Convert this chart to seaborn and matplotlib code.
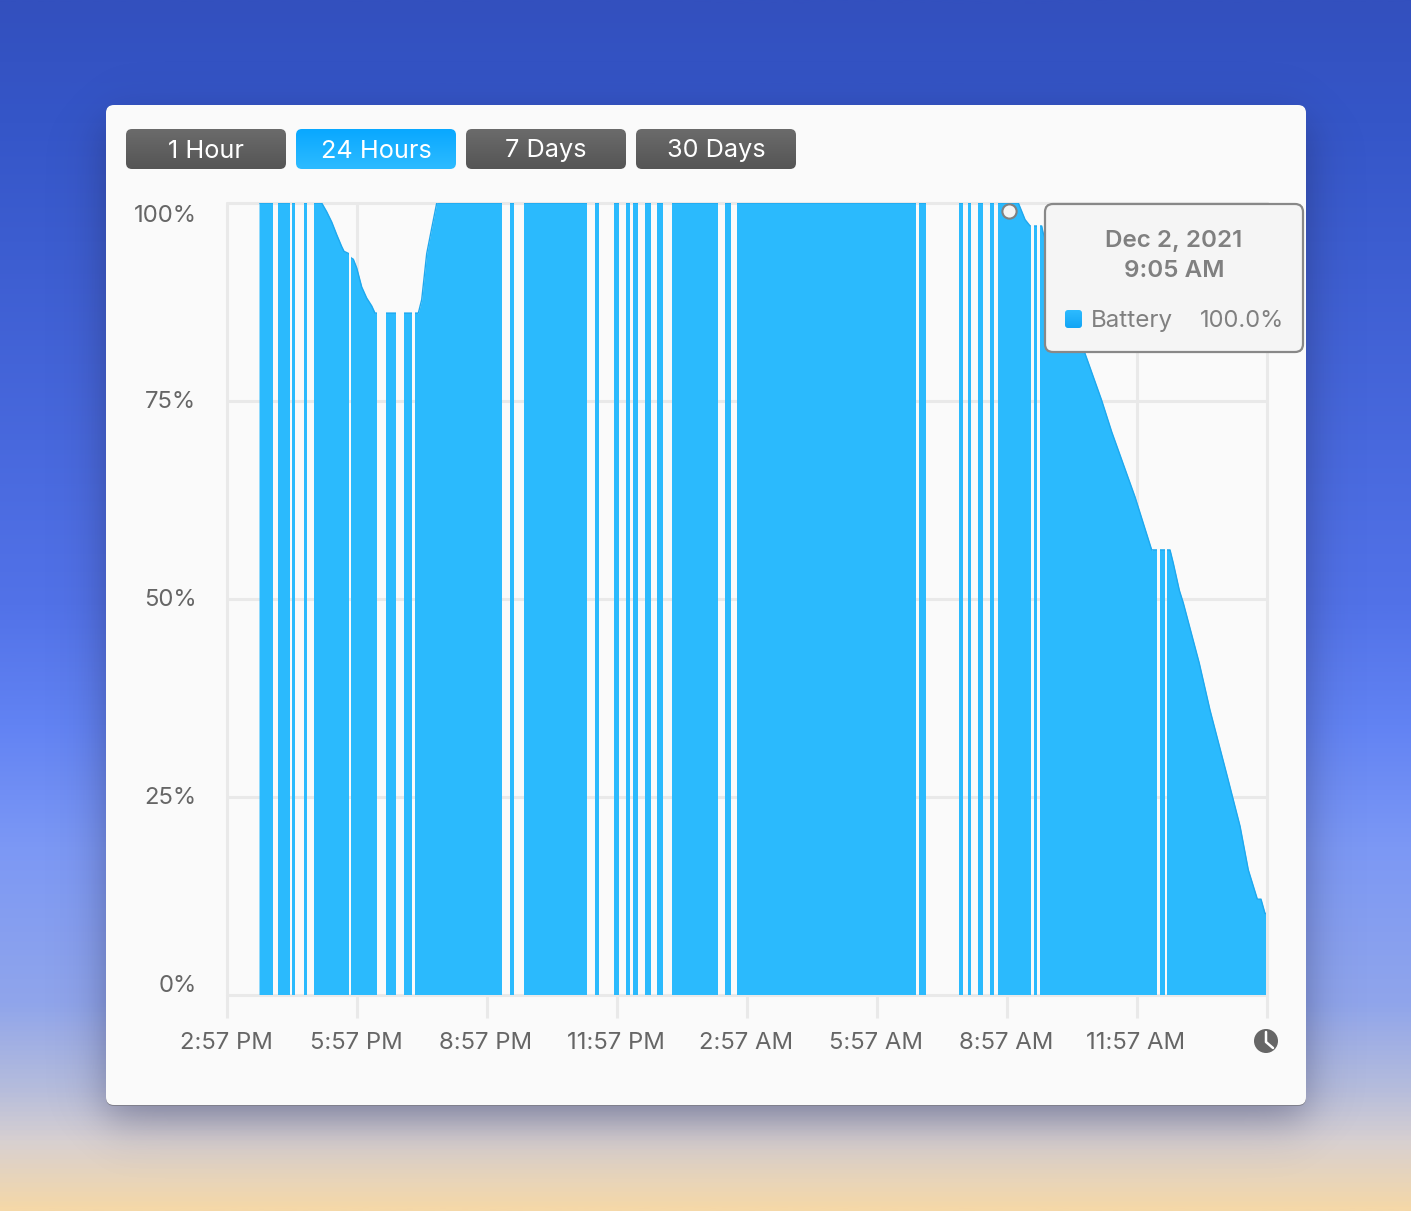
import numpy as np
import pandas as pd
import matplotlib
matplotlib.use('Agg')
import matplotlib.pyplot as plt
import seaborn as sns
from matplotlib.colors import LinearSegmentedColormap
from matplotlib.patches import FancyBboxPatch, Circle
from matplotlib.path import Path
from matplotlib.transforms import ScaledTranslation

# minutes after 2:57 PM
curve_minutes = [44.3, 131.1, 138, 145, 151.9, 158.8, 162, 168.9, 171.3, 174.9, 179.6, 186.5, 193.4,
                 200.4, 204.9, 264.9, 269.6, 276.5, 283.4, 290.4, 1095.7, 1105, 1112, 1128, 1129.8,
                 1188, 1211, 1225, 1257.2, 1280.3, 1305.7, 1310.3, 1318.6, 1324.1, 1346.2, 1361,
                 1385, 1402.7, 1414.1, 1426.6, 1431.7, 1437.2, 1438.6]
curve_battery = [100, 100, 98.9, 97.6, 96, 94.5, 93.9, 93.6, 93.1, 92.9, 91.8, 89.4, 88,
                 87, 86.1, 86.1, 87.8, 93.6, 96.8, 100, 100, 97.9, 97.1, 97.1, 96.3,
                 81, 75.1, 71.1, 62.9, 56.2, 56.2, 54.5, 51.1, 49.5, 41.9, 36,
                 27.6, 21.3, 15.8, 12.1, 12.1, 10.3, 10.3]

# stretches of time on battery, the white gaps are what is left over
on_start = [44.3, 70.6, 90, 106.2, 120.9, 171.3, 219.7, 245.5, 259.9, 391.8, 411.2, 509.5, 535.8,
            552.9, 562.6, 579.2, 595.8, 615.7, 689.5, 706.6, 958.2, 1013.9, 1026, 1040.3, 1056.5,
            1067.1, 1117.4, 1126.1, 1291.2, 1301.5]
on_end = [63.3, 87.2, 94.6, 111.2, 168.9, 207.3, 233.6, 255.7, 380.4, 397.4, 498, 514.7, 543.2,
          558, 569.5, 586.7, 603.7, 680.3, 697.4, 953.6, 967.8, 1018.7, 1030.6, 1047.2, 1061.6,
          1112.8, 1121.5, 1287.3, 1298.8, 1438.6]

x_ticks = [0, 180, 360, 540, 720, 900, 1080, 1260, 1440]
x_labels = ['2:57 PM', '5:57 PM', '8:57 PM', '11:57 PM', '2:57 AM', '5:57 AM', '8:57 AM', '11:57 AM', '']
y_ticks = [0, 25, 50, 75, 100]
y_labels = ['0%', '25%', '50%', '75%', '100%']
buttons = ['1 Hour', '24 Hours', '7 Days', '30 Days']
hover_minute = 1083
hover_battery = 99

W, H = 1411, 1211
BLUE = '#2BBAFD'
GRID = '#E9E9E9'

sns.set_theme(style='white')
plt.rcParams['font.family'] = ['Inter', 'DejaVu Sans']

fig = plt.figure(figsize=(W / 100, H / 100), dpi=100)


def pixel_axes(z):
    a = fig.add_axes([0, 0, 1, 1], zorder=z)
    a.set_xlim(0, W)
    a.set_ylim(H, 0)
    a.axis('off')
    return a


def gradient_box(a, x0, y0, x1, y1, top, bottom, rad):
    box = FancyBboxPatch((x0 + rad, y0 + rad), x1 - x0 - 2 * rad, y1 - y0 - 2 * rad,
                         boxstyle=f'round,pad={rad},rounding_size={rad}', fc='none', ec='none')
    a.add_patch(box)
    cmap = LinearSegmentedColormap.from_list('g', [top, bottom])
    im = a.imshow(np.linspace(0, 1, 64)[:, None], extent=(x0, x1, y1, y0), aspect='auto', cmap=cmap, zorder=2)
    im.set_clip_path(box)
    a.set_xlim(0, W)
    a.set_ylim(H, 0)


# desktop background and window
back = pixel_axes(0)
wall = LinearSegmentedColormap.from_list('wall', [
    (0, '#3350BE'), (0.1, '#3556C8'), (0.5, '#5272E8'), (0.6, '#6283F3'), (0.7, '#7C98F5'),
    (0.83, '#90A5EB'), (0.9, '#B5BCDC'), (0.945, '#D8D0D0'), (1, '#F5D8A8')])
back.imshow(np.linspace(0, 1, 512)[:, None], extent=(0, W, H, 0), aspect='auto', cmap=wall, zorder=0)

# soft window shadow, a blurred rectangle moved down a little
xx, yy = np.meshgrid(np.arange(W) + 0.5, np.arange(H) + 0.5)
blur = 13
fade_x = 1 / (1 + np.exp((106 - xx) / blur)) - 1 / (1 + np.exp((1306 - xx) / blur))
fade_y = 1 / (1 + np.exp((122 - yy) / blur)) - 1 / (1 + np.exp((1118 - yy) / blur))
shadow = np.zeros((H, W, 4))
shadow[..., :3] = (0.12, 0.12, 0.25)
shadow[..., 3] = 0.42 * fade_x * fade_y
back.imshow(shadow, extent=(0, W, H, 0), aspect='auto', zorder=1)
back.set_xlim(0, W)
back.set_ylim(H, 0)

back.add_patch(FancyBboxPatch((114, 114), 1184, 984, boxstyle='round,pad=8,rounding_size=8',
                              fc='#80808C', ec='none', zorder=1.4))
back.add_patch(FancyBboxPatch((114, 113), 1184, 984, boxstyle='round,pad=8,rounding_size=8',
                              fc='#FAFAFA', ec='none', zorder=1.5))

for i, name in enumerate(buttons):
    left = 126 + i * 170
    if name == '24 Hours':
        gradient_box(back, left, 129, left + 160, 169, '#09A8FF', '#2DBBFF', 6)
    else:
        gradient_box(back, left, 129, left + 160, 169, '#6B6B6B', '#555555', 6)
    back.text(left + 80, 157.5, name, color='white', fontsize=18.2, ha='center', va='baseline', zorder=3)

# the chart itself
ax = fig.add_axes([227 / W, 1 - 995 / H, 1040 / W, 792 / H], zorder=1)
ax.patch.set_alpha(0)
df = pd.DataFrame({'minutes': curve_minutes, 'battery': curve_battery})

verts, codes = [], []
for s, e in zip(on_start, on_end):
    verts += [(s, 0), (e, 0), (e, 100), (s, 100), (s, 0)]
    codes += [Path.MOVETO, Path.LINETO, Path.LINETO, Path.LINETO, Path.CLOSEPOLY]
on_battery = Path(verts, codes)

area = ax.fill_between(df['minutes'], df['battery'], color=BLUE, lw=0, zorder=2)
area.set_clip_path(on_battery, ax.transData)
sns.lineplot(data=df, x='minutes', y='battery', estimator=None, color='#1FA8EE', lw=1.0, ax=ax, zorder=3)
ax.lines[-1].set_clip_path(on_battery, ax.transData)

ax.set_xlim(0, 1440)
ax.set_ylim(0, 100)
ax.set_xticks(x_ticks, x_labels)
ax.set_yticks(y_ticks, y_labels)
ax.set_axisbelow(True)
ax.grid(True, color=GRID, lw=2.2)
for g in ax.get_xgridlines() + ax.get_ygridlines():
    g.set_clip_on(False)
for side in ax.spines.values():
    side.set_visible(False)
ax.tick_params(axis='x', bottom=True, length=16.5, width=2.2, color=GRID, labelcolor='#666666',
               labelsize=17.2, pad=10)
ax.tick_params(axis='y', left=False, length=0, labelcolor='#666666', labelsize=17.2, pad=22)
# text in the reference sits a pixel left of each tick
for lab in ax.get_xticklabels():
    lab.set_transform(lab.get_transform() + ScaledTranslation(-1 / 100, 0, fig.dpi_scale_trans))
# top and bottom percent labels sit inside the plot range
y_shift = [11, 1, 1, 1, -10.5]
for lab, px in zip(ax.get_yticklabels(), y_shift):
    lab.set_transform(lab.get_transform() + ScaledTranslation(0, px / 100, fig.dpi_scale_trans))

sns.scatterplot(x=[hover_minute], y=[hover_battery], s=105, color='#F5F5F5', edgecolor='#808080',
                linewidth=1.5, ax=ax, zorder=5, clip_on=False, legend=False)
ax.set_xlabel('')
ax.set_ylabel('')

# tooltip and clock icon on top
top = pixel_axes(2)
top.add_patch(FancyBboxPatch((1053, 212), 242, 132, boxstyle='round,pad=8,rounding_size=8',
                             fc='#F5F5F5', ec='#888888', lw=1.6))
top.text(1174, 247, 'Dec 2, 2021', color='#808080', fontsize=17.4, fontweight='semibold', ha='center', va='baseline')
top.text(1174, 277, '9:05 AM', color='#808080', fontsize=17.4, fontweight='semibold', ha='center', va='baseline')
gradient_box(top, 1065, 310, 1082, 328, '#2DBBFF', '#12A5F5', 3)
top.text(1091, 327, 'Battery', color='#808080', fontsize=17.4, ha='left', va='baseline')
top.text(1284, 327, '100.0%', color='#808080', fontsize=17, ha='right', va='baseline')

top.add_patch(Circle((1266, 1041), 12, fc='#666666', ec='none'))
top.plot([1266, 1266, 1273], [1032, 1042, 1048], color='white', lw=1.8, solid_capstyle='round')

fig.savefig('out.png', dpi=100)
